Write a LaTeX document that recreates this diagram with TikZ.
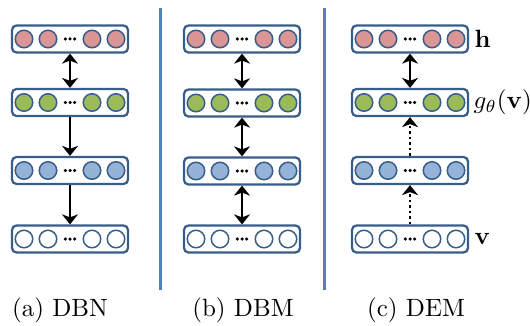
\documentclass[tikz,border=0pt]{standalone}
\usetikzlibrary{arrows.meta}
\definecolor{boxline}{RGB}{56,93,138}
\definecolor{sepblue}{RGB}{79,129,189}
\definecolor{hpink}{RGB}{217,150,148}
\definecolor{ggreen}{RGB}{155,187,89}
\definecolor{lblue}{RGB}{149,179,215}
\tikzset{
  layerbox/.style={draw=boxline, line width=0.9pt, rounded corners=1.8pt,
    minimum width=46.4pt, minimum height=10.8pt, inner sep=0pt, fill=white},
  unit/.style={circle, draw=boxline, line width=0.6pt, minimum size=7pt, inner sep=0pt},
  dotunit/.style={circle, fill=black, minimum size=1.4pt, inner sep=0pt},
  conn/.style={line width=1.1pt, black},
  dotconn/.style={conn, dash pattern=on 1.1pt off 1.1pt},
  sepline/.style={draw=sepblue, line width=1.2pt},
  lbl/.style={anchor=west, inner sep=0pt},
  captext/.style={inner sep=0pt},
  >={Stealth[length=4pt,width=6.4pt,inset=1.2pt]}
}
\newcommand{\mklayer}[4]{%
  \node[layerbox] (#1) at (#2,#3) {};
  \foreach \dx/\k in {-46/1,-22/2,22/3,46/4}{%
    \node[unit, fill=#4] (#1u\k) at ([xshift=\dx*0.4pt]#1.center) {};}
  \foreach \dx/\k in {-4.6/1,0/2,4.6/3}{%
    \node[dotunit] (#1d\k) at ([xshift=\dx*0.4pt]#1.center) {};}
}
\begin{document}
\begin{tikzpicture}[x=0.4pt,y=-0.4pt]
\useasboundingbox (0,0) rectangle (530,325);
% separators
\coordinate (s1t) at (160.7,8);
\coordinate (s1b) at (160.7,290);
\coordinate (s2t) at (324,8);
\coordinate (s2b) at (324,290);
\draw[sepline] (s1t) -- (s1b);
\draw[sepline] (s2t) -- (s2b);
% column a: DBN
\mklayer{a1}{70}{39}{hpink}
\mklayer{a2}{70}{102.5}{ggreen}
\mklayer{a3}{70}{170.5}{lblue}
\mklayer{a4}{70}{239}{white}
\draw[conn,<->] (a1.south) -- (a2.north);
\draw[conn,->] (a2.south) -- (a3.north);
\draw[conn,->] (a3.south) -- (a4.north);
% column b: DBM
\mklayer{b1}{242}{39}{hpink}
\mklayer{b2}{242}{103}{ggreen}
\mklayer{b3}{242}{171}{lblue}
\mklayer{b4}{242}{239}{white}
\draw[conn,<->] (b1.south) -- (b2.north);
\draw[conn,<->] (b2.south) -- (b3.north);
\draw[conn,<->] (b3.south) -- (b4.north);
% column c: DEM
\mklayer{c1}{410}{39}{hpink}
\mklayer{c2}{410}{102.5}{ggreen}
\mklayer{c3}{410}{170.5}{lblue}
\mklayer{c4}{410}{239}{white}
\draw[conn,<->] (c1.south) -- (c2.north);
\draw[dotconn,->] (c3.north) -- (c2.south);
\draw[dotconn,->] (c4.north) -- (c3.south);
% labels
\node[lbl] (lh) at ([xshift=2pt]c1.east) {$\mathbf{h}$};
\node[lbl] (lg) at ([xshift=1.6pt]c2.east) {$g_\theta(\mathbf{v})$};
\node[lbl] (lv) at ([xshift=2pt]c4.east) {$\mathbf{v}$};
% captions
\node[captext] (capa) at (60,310) {(a) DBN};
\node[captext] (capb) at (243,310) {(b) DBM};
\node[captext] (capc) at (416,310) {(c) DEM};
\end{tikzpicture}
\end{document}
